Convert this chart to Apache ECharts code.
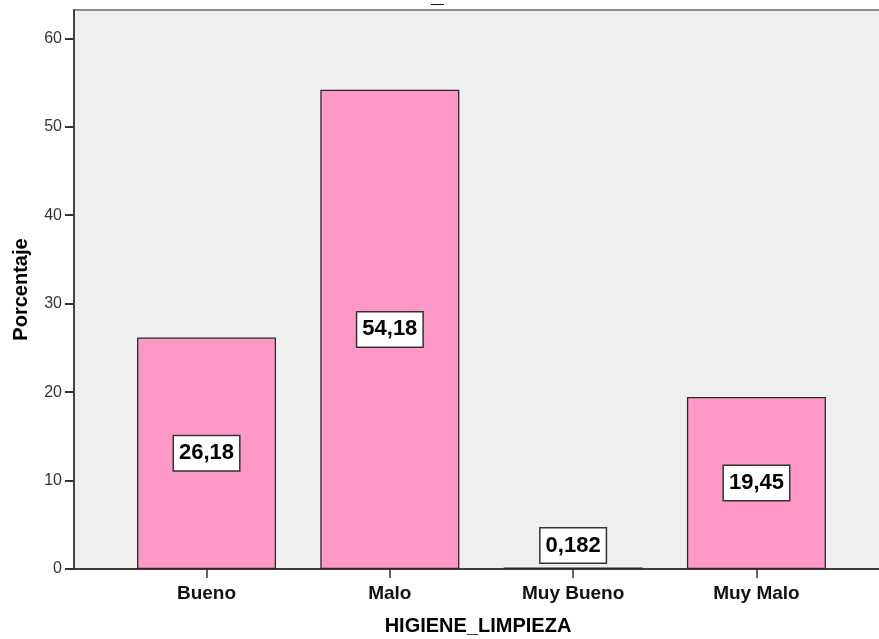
<!DOCTYPE html>
<html>
<head>
<meta charset="utf-8">
<script src="https://cdn.jsdelivr.net/npm/echarts@6/dist/echarts.min.js"></script>
<style>
  html, body { margin: 0; padding: 0; background: #ffffff; }
  #chart { width: 879px; height: 639px; }
</style>
</head>
<body>
<div id="chart"></div>
<script>
// Frequency percentages of HIGIENE_LIMPIEZA ratings
const categories = ['Bueno', 'Malo', 'Muy Bueno', 'Muy Malo'];
const percentages = [26.18, 54.18, 0.182, 19.45];
const yTicks = [0, 10, 20, 30, 40, 50, 60];
const xTitle = 'HIGIENE_LIMPIEZA';
const yTitle = 'Porcentaje';

const FONT = '"Liberation Sans", Arial, sans-serif';
const positions = categories.map((_, i) => i);

const chart = echarts.init(document.getElementById('chart'), null, { renderer: 'canvas' });

const barData = percentages.map((v, i) => {
  const item = { value: [i, v] };
  if (v < 2) {
    item.label = { position: 'top', distance: 5 };
  }
  return item;
});

chart.setOption({
  animation: false,
  backgroundColor: '#ffffff',
  title: {
    text: '_',
    left: 431,
    top: -16,
    padding: 0,
    textStyle: { fontFamily: FONT, fontSize: 23, fontWeight: 'bold', color: '#000' }
  },
  grid: {
    left: 74,
    right: -3,
    top: 10,
    bottom: 70,
    outerBoundsMode: 'none',
    containLabel: false,
    show: true,
    backgroundColor: '#efefef',
    borderColor: '#8c8c8c',
    borderWidth: 2
  },
  xAxis: {
    type: 'value',
    min: -0.723,
    max: 3.685,
    name: xTitle,
    nameLocation: 'middle',
    nameGap: 47,
    nameTextStyle: { fontFamily: FONT, fontSize: 20, fontWeight: 'bold', color: '#000' },
    splitLine: { show: false },
    axisLine: { show: true, onZero: false, lineStyle: { color: '#222', width: 1.5 } },
    axisTick: {
      show: true,
      customValues: positions,
      length: 9,
      lineStyle: { color: '#333', width: 1.5 }
    },
    axisLabel: {
      customValues: positions,
      margin: 15,
      fontFamily: FONT,
      fontSize: 19,
      fontWeight: 'bold',
      color: '#111',
      formatter: (v) => categories[Math.round(v)]
    }
  },
  yAxis: {
    type: 'value',
    min: 0,
    max: 63.2,
    interval: 10,
    name: yTitle,
    nameLocation: 'middle',
    nameGap: 43,
    nameTextStyle: { fontFamily: FONT, fontSize: 20, fontWeight: 'bold', color: '#000' },
    splitLine: { show: false },
    axisLine: { show: true, onZero: false, lineStyle: { color: '#444', width: 2 } },
    axisTick: {
      show: true,
      customValues: yTicks,
      length: 9,
      lineStyle: { color: '#333', width: 2 }
    },
    axisLabel: {
      customValues: yTicks,
      margin: 12,
      fontFamily: FONT,
      fontSize: 16,
      color: '#333'
    }
  },
  series: [{
    type: 'bar',
    barWidth: 139,
    data: barData,
    itemStyle: {
      color: '#fe98c7',
      borderColor: '#2a2a2a',
      borderWidth: 1.3
    },
    label: {
      show: true,
      position: 'inside',
      fontFamily: FONT,
      fontSize: 22,
      fontWeight: 'bold',
      lineHeight: 22,
      color: '#000',
      backgroundColor: '#ffffff',
      borderColor: '#333',
      borderWidth: 1.5,
      padding: [7, 5, 5, 5],
      formatter: (p) => String(p.value[1]).replace('.', ',')
    }
  }]
});
</script>
</body>
</html>
